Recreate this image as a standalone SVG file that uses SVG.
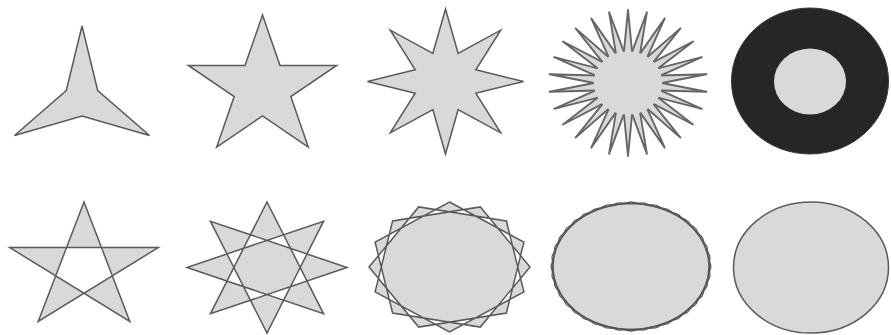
<svg xmlns="http://www.w3.org/2000/svg" xmlns:xlink="http://www.w3.org/1999/xlink" width="891" height="335" viewBox="0 0 891 335">
<style>
.s{fill:#d9d9d9;stroke:#5a5a5a;stroke-width:1.5;stroke-linejoin:miter}
.e{fill-rule:evenodd}
.c{stroke:#555;stroke-width:1.3;fill:none}
.sp{fill:#d9d9d9;stroke:#666;stroke-width:1.9;stroke-linejoin:round}
</style>
<defs>
<path id="spike" class="sp" vector-effect="non-scaling-stroke" d="M-0.0518,-0.4269 L0,-1 L0.0518,-0.4269"/>
<line id="chord" class="c" vector-effect="non-scaling-stroke" x1="0" y1="-1" x2="0.454" y2="-0.891"/>
</defs>
<rect width="891" height="335" fill="#fff"/>

<g id="star3">
<polygon class="s" points="82,26 97.7,90.5 149.5,135.5 82,116 14.5,135.5 66.3,90.5"/>
</g>

<g id="star5">
<polygon class="s" points="262.5,15 280,65.4 336.7,65.4 290.8,96.6 308.3,147.1 262.5,115.9 216.7,147.1 234.2,96.6 188.3,65.4 245,65.4"/>
</g>

<g id="star8">
<polygon class="s" points="445.5,9 458.1,53.3 500.7,30.2 475.8,69.8 523.5,81.5 475.8,93.2 500.7,132.8 458.1,109.7 445.5,154 432.9,109.7 390.3,132.8 415.2,93.2 367.5,81.5 415.2,69.8 390.3,30.2 432.9,53.3"/>
</g>

<g id="star26" transform="translate(628,83) scale(79,73)">
<use href="#spike" transform="rotate(0)"/>
<use href="#spike" transform="rotate(13.846)"/>
<use href="#spike" transform="rotate(27.692)"/>
<use href="#spike" transform="rotate(41.538)"/>
<use href="#spike" transform="rotate(55.385)"/>
<use href="#spike" transform="rotate(69.231)"/>
<use href="#spike" transform="rotate(83.077)"/>
<use href="#spike" transform="rotate(96.923)"/>
<use href="#spike" transform="rotate(110.769)"/>
<use href="#spike" transform="rotate(124.615)"/>
<use href="#spike" transform="rotate(138.462)"/>
<use href="#spike" transform="rotate(152.308)"/>
<use href="#spike" transform="rotate(166.154)"/>
<use href="#spike" transform="rotate(180)"/>
<use href="#spike" transform="rotate(193.846)"/>
<use href="#spike" transform="rotate(207.692)"/>
<use href="#spike" transform="rotate(221.538)"/>
<use href="#spike" transform="rotate(235.385)"/>
<use href="#spike" transform="rotate(249.231)"/>
<use href="#spike" transform="rotate(263.077)"/>
<use href="#spike" transform="rotate(276.923)"/>
<use href="#spike" transform="rotate(290.769)"/>
<use href="#spike" transform="rotate(304.615)"/>
<use href="#spike" transform="rotate(318.462)"/>
<use href="#spike" transform="rotate(332.308)"/>
<use href="#spike" transform="rotate(346.154)"/>
<ellipse cx="0" cy="0" rx="0.432" ry="0.432" fill="#d9d9d9"/>
</g>

<g id="starDense">
<ellipse cx="810" cy="81" rx="78.5" ry="73" fill="#262626" stroke="#3a3a3a" stroke-width="1"/>
<ellipse cx="810" cy="81.5" rx="36" ry="33" fill="#d9d9d9"/>
</g>

<g id="gram5">
<path class="s e" d="M84,202 L129.8,321.4 L9.8,247.6 L158.2,247.6 L38.2,321.4 Z"/>
</g>

<g id="gram8">
<path class="s e" d="M267,202 L323.6,313.8 L187,267.5 L323.6,221.2 L267,333 L210.4,221.2 L347,267.5 L210.4,313.8 Z"/>
</g>

<g id="gram16">
<path class="s e" d="M449.5,202 L523.9,242.1 L506.4,313 L418.7,327.1 L369,267 L418.7,206.9 L506.4,221 L523.9,291.9 L449.5,332 L375.1,291.9 L392.6,221 L480.3,206.9 L530,267 L480.3,327.1 L392.6,313 L375.1,242.1 Z"/>
</g>

<g id="gram40" transform="translate(631,266.5) scale(80,64.5)">
<ellipse cx="0" cy="0" rx="0.985" ry="0.985" fill="#d9d9d9"/>
<use href="#chord" transform="rotate(0)"/>
<use href="#chord" transform="rotate(9)"/>
<use href="#chord" transform="rotate(18)"/>
<use href="#chord" transform="rotate(27)"/>
<use href="#chord" transform="rotate(36)"/>
<use href="#chord" transform="rotate(45)"/>
<use href="#chord" transform="rotate(54)"/>
<use href="#chord" transform="rotate(63)"/>
<use href="#chord" transform="rotate(72)"/>
<use href="#chord" transform="rotate(81)"/>
<use href="#chord" transform="rotate(90)"/>
<use href="#chord" transform="rotate(99)"/>
<use href="#chord" transform="rotate(108)"/>
<use href="#chord" transform="rotate(117)"/>
<use href="#chord" transform="rotate(126)"/>
<use href="#chord" transform="rotate(135)"/>
<use href="#chord" transform="rotate(144)"/>
<use href="#chord" transform="rotate(153)"/>
<use href="#chord" transform="rotate(162)"/>
<use href="#chord" transform="rotate(171)"/>
<use href="#chord" transform="rotate(180)"/>
<use href="#chord" transform="rotate(189)"/>
<use href="#chord" transform="rotate(198)"/>
<use href="#chord" transform="rotate(207)"/>
<use href="#chord" transform="rotate(216)"/>
<use href="#chord" transform="rotate(225)"/>
<use href="#chord" transform="rotate(234)"/>
<use href="#chord" transform="rotate(243)"/>
<use href="#chord" transform="rotate(252)"/>
<use href="#chord" transform="rotate(261)"/>
<use href="#chord" transform="rotate(270)"/>
<use href="#chord" transform="rotate(279)"/>
<use href="#chord" transform="rotate(288)"/>
<use href="#chord" transform="rotate(297)"/>
<use href="#chord" transform="rotate(306)"/>
<use href="#chord" transform="rotate(315)"/>
<use href="#chord" transform="rotate(324)"/>
<use href="#chord" transform="rotate(333)"/>
<use href="#chord" transform="rotate(342)"/>
<use href="#chord" transform="rotate(351)"/>
</g>

<g id="ellipse">
<ellipse class="s" cx="811" cy="267.5" rx="77.5" ry="65.5"/>
</g>
</svg>
